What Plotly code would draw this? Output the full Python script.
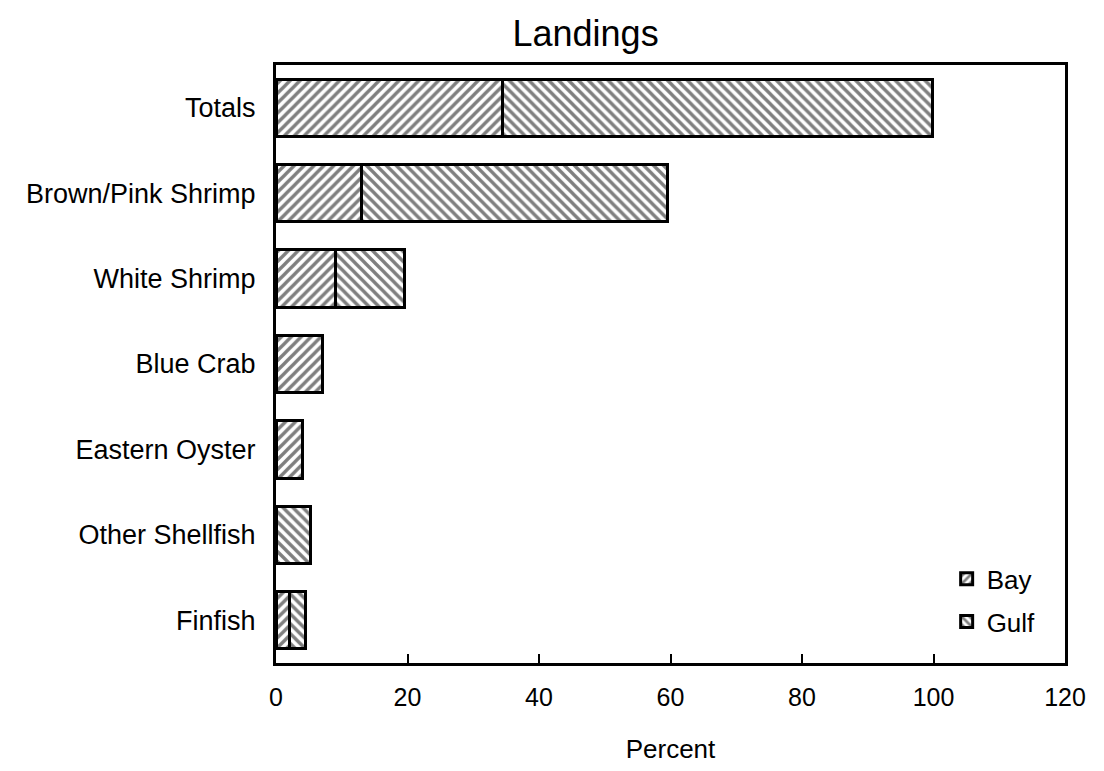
import plotly.graph_objects as go

categories = ["Totals", "Brown/Pink Shrimp", "White Shrimp", "Blue Crab",
              "Eastern Oyster", "Other Shellfish", "Finfish"]
bay = [34.5, 13, 9, 7, 4, 0, 2]
gulf = [65.3, 46.5, 10.5, 0, 0, 5.2, 2.5]
x_ticks = [0, 20, 40, 60, 80, 100, 120]

FONT = "Liberation Sans, Arial, sans-serif"

fig = go.Figure()
fig.add_trace(go.Bar(
    y=categories, x=bay, name="Bay", orientation="h", legendgroup="bay",
    marker=dict(color="white", line=dict(color="black", width=3),
                pattern=dict(shape="/", fgcolor="black", bgcolor="white",
                             size=7, solidity=0.48)),
))
fig.add_trace(go.Bar(
    y=categories, x=gulf, name="Gulf", orientation="h", legendgroup="gulf",
    marker=dict(color="white", line=dict(color="black", width=3),
                pattern=dict(shape="\\", fgcolor="black", bgcolor="white",
                             size=7, solidity=0.48)),
))

fig.update_layout(
    width=1096, height=763,
    barmode="stack", bargap=0.33,
    paper_bgcolor="white", plot_bgcolor="white",
    margin=dict(l=268, r=39, t=57, b=103),
    font=dict(family=FONT, size=25, color="black"),
    title=dict(text="Landings", x=0.527, xanchor="center", y=0.967, yanchor="middle",
               font=dict(family=FONT, size=36, color="black")),
    showlegend=True,
    legend=dict(x=0.85, y=0.18, xanchor="left", yanchor="top",
                bgcolor="rgba(0,0,0,0)", font=dict(size=26),
                traceorder="grouped", tracegroupgap=6, itemwidth=30),
    xaxis=dict(range=[0, 120], tickvals=x_ticks, ticks="inside", ticklen=9,
               tickwidth=2, tickcolor="black", showline=True, linecolor="black",
               linewidth=3, mirror=True, showgrid=False, zeroline=False,
               ticklabelstandoff=10,
               title=dict(text="Percent", font=dict(size=26), standoff=30),
               tickfont=dict(size=25)),
    yaxis=dict(categoryorder="array", categoryarray=categories, autorange="reversed",
               showline=True, linecolor="black", linewidth=3, mirror=True,
               showgrid=False, ticks="", ticklabelstandoff=12,
               tickfont=dict(size=27)),
)

fig.write_html("out.html")
